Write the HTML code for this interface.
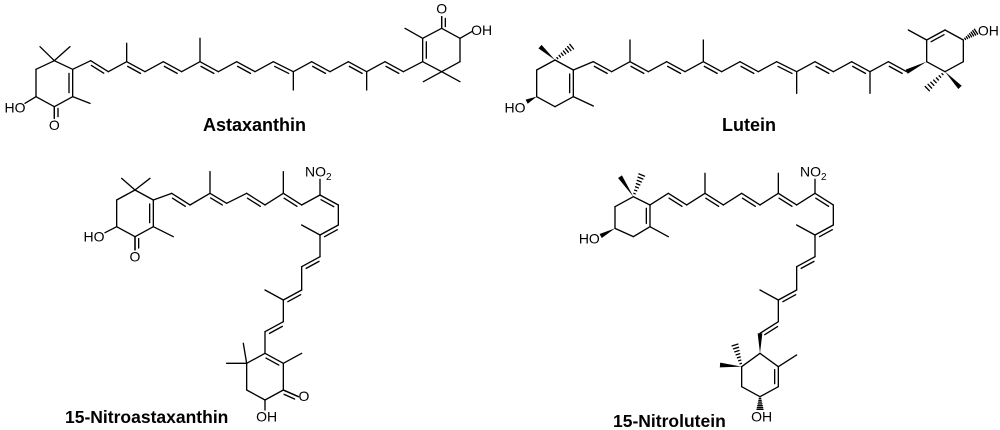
<!DOCTYPE html>
<html><head><meta charset="utf-8"><style>
html,body{margin:0;padding:0;background:#fff;width:1000px;height:430px;overflow:hidden}
svg{display:block}
text{font-family:"Liberation Sans",Arial,sans-serif;fill:#000}
</style></head><body>
<svg id="s" width="1000" height="430" viewBox="0 0 1000 430" xmlns="http://www.w3.org/2000/svg">
<text x="203" y="131" font-size="18" font-weight="bold">Astaxanthin</text>
<text x="722" y="131" font-size="18" font-weight="bold">Lutein</text>
<text x="65" y="423" font-size="17.5" font-weight="bold">15-Nitroastaxanthin</text>
<text x="613" y="427" font-size="17.5" font-weight="bold">15-Nitrolutein</text>
</svg>
<script>
const NS="http://www.w3.org/2000/svg";const S=document.getElementById('s');
function grp(ox,oy){const g=document.createElementNS(NS,'g');g.setAttribute('transform',`translate(${ox},${oy}) scale(0.33333)`);S.appendChild(g);return g;}
function el(g,t,a){const e=document.createElementNS(NS,t);for(const k in a)e.setAttribute(k,a[k]);g.appendChild(e);return e;}
function L(g,a,b){el(g,'line',{x1:a[0],y1:a[1],x2:b[0],y2:b[1],stroke:'#000','stroke-width':4,'stroke-linecap':'round'});}
function chain(g,pts){for(let i=0;i<pts.length-1;i++)L(g,pts[i],pts[i+1]);}
function D(g,a,b,c){L(g,a,b);const dx=b[0]-a[0],dy=b[1]-a[1],len=Math.hypot(dx,dy);let nx=-dy/len,ny=dx/len;
 const m=[(a[0]+b[0])/2,(a[1]+b[1])/2];c=c||[m[0],m[1]+100];if(nx*(c[0]-m[0])+ny*(c[1]-m[1])<0){nx=-nx;ny=-ny;}
 const o=11,s=0.15;L(g,[a[0]+dx*s+nx*o,a[1]+dy*s+ny*o],[b[0]-dx*s+nx*o,b[1]-dy*s+ny*o]);}
function W(g,a,b){const dx=b[0]-a[0],dy=b[1]-a[1],len=Math.hypot(dx,dy),nx=-dy/len*7,ny=dx/len*7;
 el(g,'polygon',{points:`${a[0]},${a[1]} ${b[0]+nx},${b[1]+ny} ${b[0]-nx},${b[1]-ny}`,fill:'#000'});}
function H(g,a,b){const dx=b[0]-a[0],dy=b[1]-a[1],len=Math.hypot(dx,dy),ux=-dy/len,uy=dx/len;
 for(let i=1;i<=7;i++){const t=i/7,w=8*t+1,x=a[0]+dx*t,y=a[1]+dy*t;L(g,[x-ux*w,y-uy*w],[x+ux*w,y+uy*w]);}}
function T(g,x,y,s,anchor){const t=el(g,'text',{x:x,y:y,'font-size':42,'text-anchor':anchor||'middle'});t.innerHTML=s;}
function ring(g,p,dbl){for(let i=0;i<6;i++){const a=p[i],b=p[(i+1)%6];if(dbl&&dbl.includes(i)){const c=[p.reduce((s,q)=>s+q[0],0)/6,p.reduce((s,q)=>s+q[1],0)/6];D(g,a,b,c);}else L(g,a,b);}}
function zig(g,pts,dblIdx){for(let i=0;i<pts.length-1;i++){if(dblIdx.includes(i))D(g,pts[i],pts[i+1]);else L(g,pts[i],pts[i+1]);}}

/* Astaxanthin */
let g=grp(0,0);
ring(g,[[163,182],[218,208],[218,290],[163,320],[108,290],[108,208]],[1]);
L(g,[163,182],[120,140]);L(g,[163,182],[210,140]);L(g,[108,290],[75,310]);T(g,45,338,'HO');
D(g,[163,320],[163,355],[300,337]);L(g,[163,320],[163,355]);T(g,163,390,'O');L(g,[218,290],[270,310]);
let c=[[218,208],[272,182],[325,215],[380,185],[435,215],[490,185],[545,215],[600,185],[655,215],[710,185],[765,215],[820,185],[880,215],[935,185],[990,215],[1045,185],[1100,215],[1155,185],[1210,215],[1268,185]];
zig(g,c,[1,3,5,7,9,11,13,15,17]);
L(g,[380,185],[380,130]);L(g,[600,185],[600,115]);L(g,[880,215],[880,270]);L(g,[1100,215],[1100,270]);
ring(g,[[1268,185],[1268,115],[1325,85],[1380,115],[1380,185],[1325,215]],[0]);
L(g,[1268,115],[1215,85]);L(g,[1325,85],[1325,50]);D(g,[1325,85],[1325,50],[1400,67]);T(g,1325,40,'O');
L(g,[1380,115],[1415,95]);T(g,1445,105,'OH');L(g,[1325,215],[1270,245]);L(g,[1325,215],[1380,245]);

/* Lutein */
g=grp(500,0);
ring(g,[[165,180],[220,210],[220,290],[165,320],[110,290],[110,210]],[1]);
W(g,[165,180],[120,140]);H(g,[165,180],[215,140]);W(g,[110,290],[80,305]);T(g,45,338,'HO');L(g,[220,290],[280,318]);
c=[[220,210],[280,185],[335,215],[390,185],[445,215],[500,185],[555,215],[610,185],[665,215],[720,185],[775,215],[830,185],[890,215],[945,185],[1000,215],[1055,185],[1110,215],[1165,185],[1220,215]];
zig(g,c,[1,3,5,7,9,11,13,15,17]);W(g,[1280,185],[1220,215]);
L(g,[390,185],[390,120]);L(g,[610,185],[610,120]);L(g,[890,215],[890,280]);L(g,[1110,215],[1110,280]);
ring(g,[[1280,185],[1280,120],[1335,90],[1390,120],[1390,185],[1335,215]],[1]);
L(g,[1280,120],[1225,90]);H(g,[1390,120],[1428,95]);T(g,1465,107,'OH');W(g,[1335,215],[1380,262]);H(g,[1335,215],[1282,266]);

/* 15-Nitroastaxanthin */
g=grp(80,140);
ring(g,[[165,150],[220,180],[220,260],[165,290],[110,260],[110,180]],[1]);
L(g,[165,150],[125,115]);L(g,[165,150],[210,115]);L(g,[110,260],[75,278]);T(g,42,305,'HO');
L(g,[165,290],[165,330]);D(g,[165,290],[165,330],[300,310]);T(g,165,365,'O');L(g,[220,260],[280,290]);
c=[[220,180],[275,160],[330,195],[390,160],[440,190],[500,160],[555,195],[610,160],[665,195],[720,165],[775,195],[775,255],[720,285],[720,350],[665,380],[665,450],[610,480],[610,545],[555,575],[555,640]];
zig(g,c,[1,3,5,7,9,11,13,15,17]);
L(g,[390,160],[390,95]);L(g,[610,160],[610,95]);L(g,[720,165],[720,118]);T(g,715,110,'NO<tspan font-size="30" dy="10">2</tspan>');
L(g,[720,285],[665,255]);L(g,[610,480],[555,450]);
ring(g,[[555,640],[610,670],[610,750],[555,780],[500,750],[500,670]],[0]);
L(g,[610,670],[665,640]);L(g,[610,750],[655,770]);D(g,[610,750],[655,770],[560,760]);T(g,672,783,'O');
L(g,[555,780],[555,810]);T(g,560,845,'OH');L(g,[500,670],[440,670]);L(g,[500,670],[490,610]);

/* 15-Nitrolutein */
g=grp(560,140);
ring(g,[[220,170],[270,195],[270,260],[220,290],[165,265],[165,200]],[1]);
W(g,[220,170],[180,110]);H(g,[220,170],[245,105]);W(g,[165,265],[122,288]);T(g,88,310,'HO');L(g,[270,260],[325,290]);
c=[[270,195],[325,160],[380,195],[435,160],[490,195],[545,160],[600,195],[655,160],[710,195],[765,160],[820,195],[820,255],[765,285],[765,350],[710,380],[710,450],[655,480],[655,545],[600,580]];
zig(g,c,[1,3,5,7,9,11,13,15,17]);
L(g,[435,160],[435,100]);L(g,[655,160],[655,100]);L(g,[765,160],[765,118]);T(g,760,110,'NO<tspan font-size="30" dy="10">2</tspan>');
L(g,[765,285],[710,255]);L(g,[655,480],[600,450]);W(g,[600,640],[600,580]);
ring(g,[[600,640],[655,680],[655,740],[600,770],[545,740],[545,680]],[1]);
L(g,[655,680],[710,645]);H(g,[600,770],[600,808]);T(g,605,845,'OH');W(g,[545,680],[480,675]);H(g,[545,680],[525,615]);
</script>
</body></html>
